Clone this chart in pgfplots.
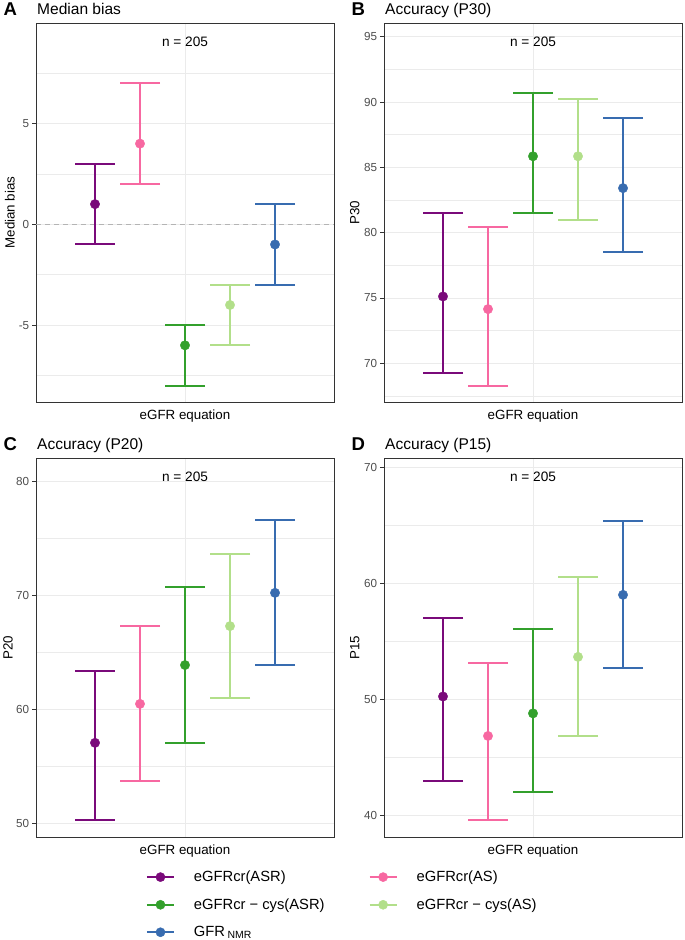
\documentclass[border=0pt]{standalone}
\usepackage{fontspec}
\setmainfont{Liberation Sans}
\usepackage{pgfplots}
\pgfplotsset{compat=1.18}

\definecolor{cP}{HTML}{7A0A7A}
\definecolor{cK}{HTML}{F768A1}
\definecolor{cG}{HTML}{33A02C}
\definecolor{cL}{HTML}{B2DF8A}
\definecolor{cB}{HTML}{386CB0}
\definecolor{grey92}{HTML}{EBEBEB}
\definecolor{grey20}{HTML}{333333}
\definecolor{grey30}{HTML}{4D4D4D}

\pgfplotsset{
  panel/.style={
    scale only axis, width=298bp, height=379bp,
    xmin=-3.311, xmax=3.311,
    xtick={0}, xticklabels={}, xtick style={draw=none},
    xmajorgrids, ymajorgrids, yminorgrids,
    major grid style={color=grey92, line width=0.9bp},
    minor grid style={color=grey92, line width=0.5bp},
    axis line style={draw=grey20, line width=0.8bp},
    tick align=outside, major tick length=3.7bp, minor tick length=0pt,
    ytick pos=left,
    ytick style={draw=grey20, line width=0.8bp},
    yticklabel style={font=\fontsize{11.7}{12}\selectfont, color=grey30, inner sep=0pt, xshift=-2.9bp},
    /pgf/number format/assume math mode=true,
    xlabel={eGFR equation},
    xlabel style={font=\fontsize{13.4}{14}\selectfont, at={(axis description cs:0.5,-0.037)}, anchor=center},
    ylabel style={font=\fontsize{13.4}{14}\selectfont, anchor=center},
    clip=false,
  },
  legimg/.style={legend image code/.code={\draw[line width=2bp, color=#1] (0bp,0bp) -- (27bp,0bp); \fill[color=#1] (13.5bp,0bp) circle (4.6bp);}},
}

% color, x, estimate, lower, upper
\newcommand{\eb}[5]{%
  \addplot[forget plot, color=#1, line width=2bp, mark=-, mark size=20bp, mark options={solid, line width=2bp}] coordinates {(#2,#4) (#2,#5)};
  \addplot[color=#1, only marks, mark=*, mark size=4.7bp, mark options={solid, fill=#1, draw=#1, line width=0.4bp}, legimg=#1] coordinates {(#2,#3)};
}

\newcommand{\nlab}{\node[font=\fontsize{13.7}{14}\selectfont] at (rel axis cs:0.5,0.951) {n = 205};}

\begin{document}
\begin{tikzpicture}
\useasboundingbox (0,0) rectangle (685bp,-940bp);

% Panel A
\begin{axis}[panel, name=A, at={(36bp,-402bp)}, anchor=south west,
  ymin=-8.81, ymax=9.98, ytick={-5,0,5}, minor ytick={-7.5,-2.5,2.5,7.5},
  ylabel={Median bias}, ylabel style={at={(axis description cs:-0.088,0.5)}}]
\addplot[forget plot, color={rgb,255:red,180;green,180;blue,180}, line width=1bp, dash pattern=on 5bp off 4bp] coordinates {(-3.311,0) (3.311,0)};
\eb{cP}{-2}{1}{-1}{3}
\eb{cK}{-1}{4}{2}{7}
\eb{cG}{0}{-6}{-8}{-5}
\eb{cL}{1}{-4}{-6}{-3}
\eb{cB}{2}{-1}{-3}{1}
\nlab
\end{axis}

% Panel B
\begin{axis}[panel, name=B, at={(384bp,-402bp)}, anchor=south west,
  ymin=67.04, ymax=96.05, ytick={70,75,80,85,90,95}, minor ytick={67.5,72.5,77.5,82.5,87.5,92.5},
  ylabel={P30}, ylabel style={at={(axis description cs:-0.098,0.5)}}]
\eb{cP}{-2}{75.12}{69.28}{81.48}
\eb{cK}{-1}{74.15}{68.26}{80.45}
\eb{cG}{0}{85.85}{81.48}{90.73}
\eb{cL}{1}{85.85}{80.96}{90.22}
\eb{cB}{2}{83.41}{78.49}{88.75}
\nlab
\end{axis}

% Panel C
\begin{axis}[panel, name=C, at={(36bp,-837bp)}, anchor=south west,
  ymin=48.8, ymax=82.08, ytick={50,60,70,80}, minor ytick={55,65,75},
  ylabel={P20}, ylabel style={at={(axis description cs:-0.094,0.5)}},
  legend columns=2, legend cell align=left,
  legend style={draw=none, fill=none, inner sep=0pt, outer sep=0pt,
    at={(axis description cs:0.369,-0.0897)}, anchor=north west,
    font=\fontsize{14.8}{16}\selectfont, row sep=15.5bp,
    nodes={inner sep=0pt},
    /tikz/every odd column/.append style={column sep=19bp},
    /tikz/every even column/.append style={column sep=44bp}}]
\eb{cP}{-2}{57.07}{50.29}{63.39}
\eb{cK}{-1}{60.49}{53.70}{67.32}
\eb{cG}{0}{63.90}{57.07}{70.72}
\eb{cL}{1}{67.32}{60.97}{73.65}
\eb{cB}{2}{70.24}{63.90}{76.60}
\legend{eGFRcr(ASR), eGFRcr(AS), eGFRcr − cys(ASR), eGFRcr − cys(AS), GFR\,\raisebox{-2bp}{\fontsize{10.5}{11}\selectfont NMR}}
\nlab
\end{axis}

% Panel D
\begin{axis}[panel, name=D, at={(384bp,-837bp)}, anchor=south west,
  ymin=38.1, ymax=70.84, ytick={40,50,60,70}, minor ytick={45,55,65},
  ylabel={P15}, ylabel style={at={(axis description cs:-0.098,0.5)}}]
\eb{cP}{-2}{50.24}{42.96}{57.06}
\eb{cK}{-1}{46.83}{39.57}{53.13}
\eb{cG}{0}{48.78}{41.96}{56.05}
\eb{cL}{1}{53.66}{46.80}{60.52}
\eb{cB}{2}{59.02}{52.70}{65.37}
\nlab
\end{axis}

% titles
\foreach \p/\l/\t in {A/A/Median bias, B/B/Accuracy (P30), C/C/Accuracy (P20), D/D/Accuracy (P15)}{
  \node[anchor=base west, font=\bfseries\fontsize{18.6}{20}\selectfont, inner sep=0pt] at ([xshift=-32.5bp, yshift=8bp]\p.north west) {\l};
  \node[anchor=base west, font=\fontsize{15.6}{17}\selectfont, inner sep=0pt] at ([xshift=1bp, yshift=9bp]\p.north west) {\t};
}
\end{tikzpicture}
\end{document}
